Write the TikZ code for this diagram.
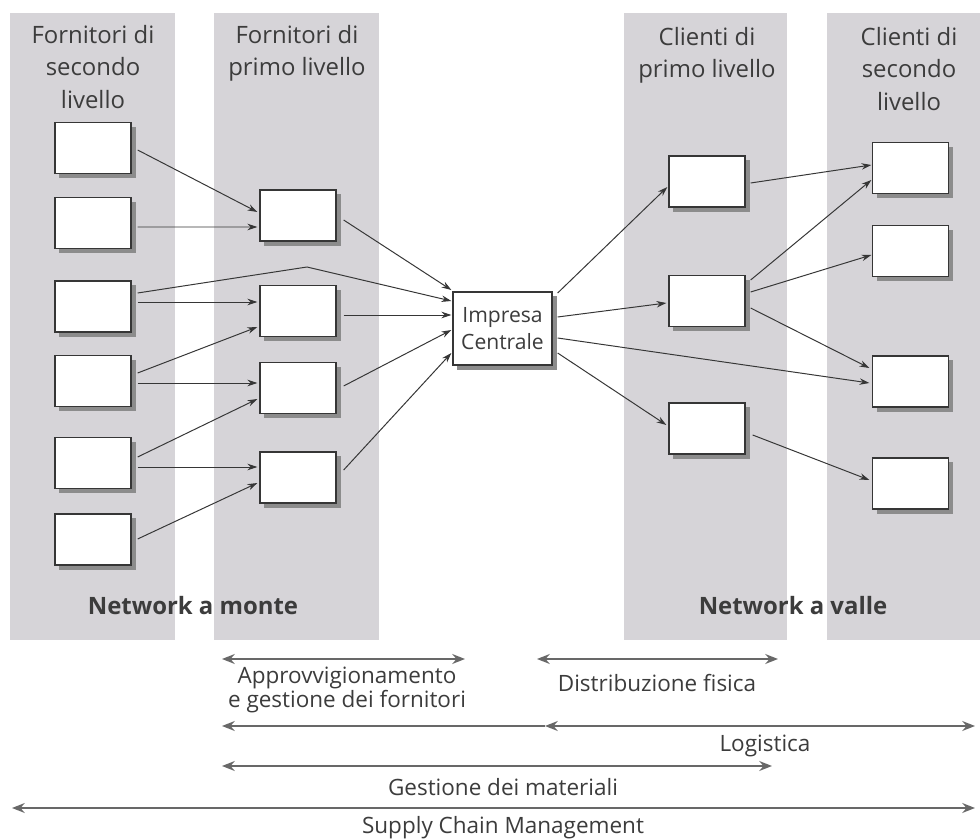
\documentclass[tikz,border=0pt]{standalone}
\usepackage{fontspec}
\setmainfont{Open Sans}
\usepackage{xcolor}
\usetikzlibrary{arrows.meta,calc,shadows}
\definecolor{SCBand}{HTML}{D6D4D8}
\definecolor{SCText}{HTML}{3C3C3C}
\definecolor{SCLine}{HTML}{363636}
\definecolor{SCShade}{HTML}{8C8C8C}

\begin{document}
\begin{tikzpicture}[x=0.025cm,y=-0.025cm,
  unit/.style={draw=SCLine,line width=.9pt,fill=white,inner sep=0pt,
    minimum width=1.9cm,minimum height=1.275cm,
    drop shadow={shadow xshift=3.2pt,shadow yshift=-3.2pt,fill=SCShade,opacity=1}},
  head/.style={anchor=north,align=center,inner sep=0pt,text=SCText,
    font=\fontsize{17}{23}\selectfont},
  net/.style={inner sep=0pt,text=SCText,font=\fontsize{17}{20}\selectfont\bfseries},
  link/.style={draw=SCLine,line width=.7pt,-{Stealth[length=7pt,width=4.6pt]}},
  span/.style={draw=SCLine!75,line width=1.9pt},
  tag/.style={inner sep=0pt,text=SCText,align=center,font=\fontsize{16}{17.5}\selectfont}]
\path[use as bounding box] (0,0) rectangle (980,839);
\fill[white] (0,0) rectangle (980,839);
% grey bands
\fill[SCBand] (10,13) rectangle (175,640);
\fill[SCBand] (214,13) rectangle (379,640);
\fill[SCBand] (624,13) rectangle (787,640);
\fill[SCBand] (827,13) rectangle (980,640);
\node[head] at (93,25) {Fornitori di\\secondo\\livello};
\node[head] at (297,25) {Fornitori di\\primo livello};
\node[head] at (707,27) {Clienti di\\primo livello};
\node[head] at (909,27) {Clienti di\\secondo\\livello};
\node[net] at (193,606) {Network a monte};
\node[net] at (793,606) {Network a valle};
% second tier suppliers
\node[unit] (ftwo1) at (93,148) {};
\node[unit] (ftwo2) at (93,223) {};
\node[unit] (ftwo3) at (93,306.5) {};
\node[unit] (ftwo4) at (93,381) {};
\node[unit] (ftwo5) at (93,463) {};
\node[unit] (ftwo6) at (93,539.5) {};
% first tier suppliers
\node[unit] (fone1) at (298,215.5) {};
\node[unit] (fone2) at (298,311) {};
\node[unit] (fone3) at (298,388) {};
\node[unit] (fone4) at (298,477.5) {};
% focal company
\node[unit,minimum width=2.475cm,minimum height=1.825cm,align=center,text=SCText,
  font=\fontsize{15}{19}\selectfont] (impresa) at (502.5,328.5) {Impresa\\Centrale};
% first tier customers
\node[unit] (cone1) at (707,181.5) {};
\node[unit] (cone2) at (707,301) {};
\node[unit] (cone3) at (707,428.5) {};
% second tier customers
\node[unit] (ctwo1) at (910.5,168) {};
\node[unit] (ctwo2) at (910.5,251) {};
\node[unit] (ctwo3) at (910.5,381.5) {};
\node[unit] (ctwo4) at (910.5,483.5) {};
% upstream links
\draw[link] ($(ftwo1.east)+(6,2)$) -- ($(fone1.west)+(-2,-3.5)$);
\draw[link] ($(ftwo2.east)+(6,4)$) -- ($(fone1.west)+(-2,11.5)$);
\coordinate (peak) at (307,267);
\draw[link] ($(ftwo3.east)+(6,-13.5)$) -- (peak) -- ($(impresa.west)+(-1,-27.5)$);
\draw[link] ($(ftwo3.east)+(6,-4.5)$) -- ($(fone2.west)+(-2,-9)$);
\draw[link] ($(ftwo4.east)+(6,-8)$) -- ($(fone2.west)+(-2,16)$);
\draw[link] ($(ftwo4.east)+(6,2)$) -- ($(fone3.west)+(-2,-5)$);
\draw[link] ($(ftwo5.east)+(6,-6)$) -- ($(fone3.west)+(-2,11)$);
\draw[link] ($(ftwo5.east)+(6,4)$) -- ($(fone4.west)+(-2,-10.5)$);
\draw[link] ($(ftwo6.east)+(6,-0.5)$) -- ($(fone4.west)+(-2,5.5)$);
\draw[link] ($(fone1.east)+(7,4.5)$) -- ($(impresa.west)+(-1,-38.5)$);
\draw[link] ($(fone2.east)+(7,4)$) -- ($(impresa.west)+(-1,-13.5)$);
\draw[link] ($(fone3.east)+(7,-2)$) -- ($(impresa.west)+(-1,1.5)$);
\draw[link] ($(fone4.east)+(7,-7.5)$) -- ($(impresa.west)+(-1,24.5)$);
% downstream links
\draw[link] ($(impresa.east)+(5,-35.5)$) -- ($(cone1.west)+(-1,5.5)$);
\draw[link] ($(impresa.east)+(5,-11.5)$) -- ($(cone2.west)+(-2,2)$);
\draw[link] ($(impresa.east)+(5,9.5)$) -- ($(ctwo3.west)+(-2.5,1.5)$);
\draw[link] ($(impresa.east)+(5,24.5)$) -- ($(cone3.west)+(-2,-3.5)$);
\draw[link] ($(cone1.east)+(5,1.5)$) -- ($(ctwo1.west)+(-0.5,-3)$);
\draw[link] ($(cone2.east)+(5,-21)$) -- ($(ctwo1.west)+(-0.5,12)$);
\draw[link] ($(cone2.east)+(5,-9)$) -- ($(ctwo2.west)+(-0.5,4)$);
\draw[link] ($(cone2.east)+(5,7)$) -- ($(ctwo3.west)+(-2.5,-13.5)$);
\draw[link] ($(cone3.east)+(7,6.5)$) -- ($(ctwo4.west)+(-2.5,-3.5)$);
% scope arrows
\coordinate (apL) at (222,659); \coordinate (apR) at (465,659);
\coordinate (diL) at (537,659); \coordinate (diR) at (778,659);
\coordinate (loL) at (222,726); \coordinate (loM) at (545,726); \coordinate (loR) at (975,726);
\coordinate (gmL) at (222,766); \coordinate (gmR) at (772,766);
\coordinate (scL) at (12,808); \coordinate (scR) at (975,808);
\draw[span,{Stealth[length=9pt,width=7pt]}-{Stealth[length=9pt,width=7pt]}] (apL) -- (apR);
\draw[span,{Stealth[length=9pt,width=7pt]}-{Stealth[length=9pt,width=7pt]}] (diL) -- (diR);
\draw[span,{Stealth[length=9pt,width=7pt]}-] (loL) -- (loM);
\draw[span,{Stealth[length=9pt,width=7pt]}-{Stealth[length=9pt,width=7pt]}] (loM) -- (loR);
\draw[span,{Stealth[length=9pt,width=7pt]}-{Stealth[length=9pt,width=7pt]}] (gmL) -- (gmR);
\draw[span,line width=1.3pt,{Stealth[length=9pt,width=7pt]}-{Stealth[length=9pt,width=7pt]}] (scL) -- (scR);
\node[tag] (approv) at (347,690) {Approvvigionamento\\e gestione dei fornitori};
\node[tag] (distr) at (657,683) {Distribuzione fisica};
\node[tag] (logist) at (765,746) {Logistica};
\node[tag] (gestmat) at (503,787) {Gestione dei materiali};
\node[tag] (scm) at (503,828) {Supply Chain Management};
\end{tikzpicture}
\end{document}
